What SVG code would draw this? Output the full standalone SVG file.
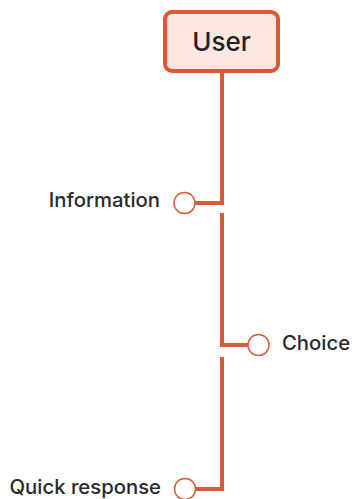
<svg xmlns="http://www.w3.org/2000/svg" width="354" height="499" viewBox="0 0 354 499">
<style>
.ln{stroke:#db5a36;stroke-width:4;fill:none;stroke-linecap:butt}
.dot{fill:#fff;stroke:#db5a36;stroke-width:1.5}
.lbl{font-family:Inter,"Liberation Sans",Arial,sans-serif;font-size:20.3px;font-weight:500;fill:#2a2a2a}
</style>
<rect width="354" height="499" fill="#fff"/>
<g id="connectors">
<path class="ln" d="M222 72V203H195"/>
<path class="ln" d="M222 213V345H248"/>
<path class="ln" d="M222 357V489H196"/>
</g>
<g id="user">
<rect x="165" y="12" width="113" height="59" rx="7" fill="#fbe7df" stroke="#db5a36" stroke-width="4"/>
<text x="221.5" y="51" text-anchor="middle" font-family="Inter,'Liberation Sans',Arial,sans-serif" font-size="26" font-weight="500" fill="#222">User</text>
</g>
<g id="information">
<circle class="dot" cx="184.5" cy="203" r="10.5"/>
<text class="lbl" x="160" y="207" text-anchor="end">Information</text>
</g>
<g id="choice">
<circle class="dot" cx="258.5" cy="345" r="10.5"/>
<text class="lbl" x="282" y="350">Choice</text>
</g>
<g id="quick">
<circle class="dot" cx="185" cy="489" r="10.5"/>
<text class="lbl" x="161" y="493.5" text-anchor="end">Quick response</text>
</g>
</svg>
